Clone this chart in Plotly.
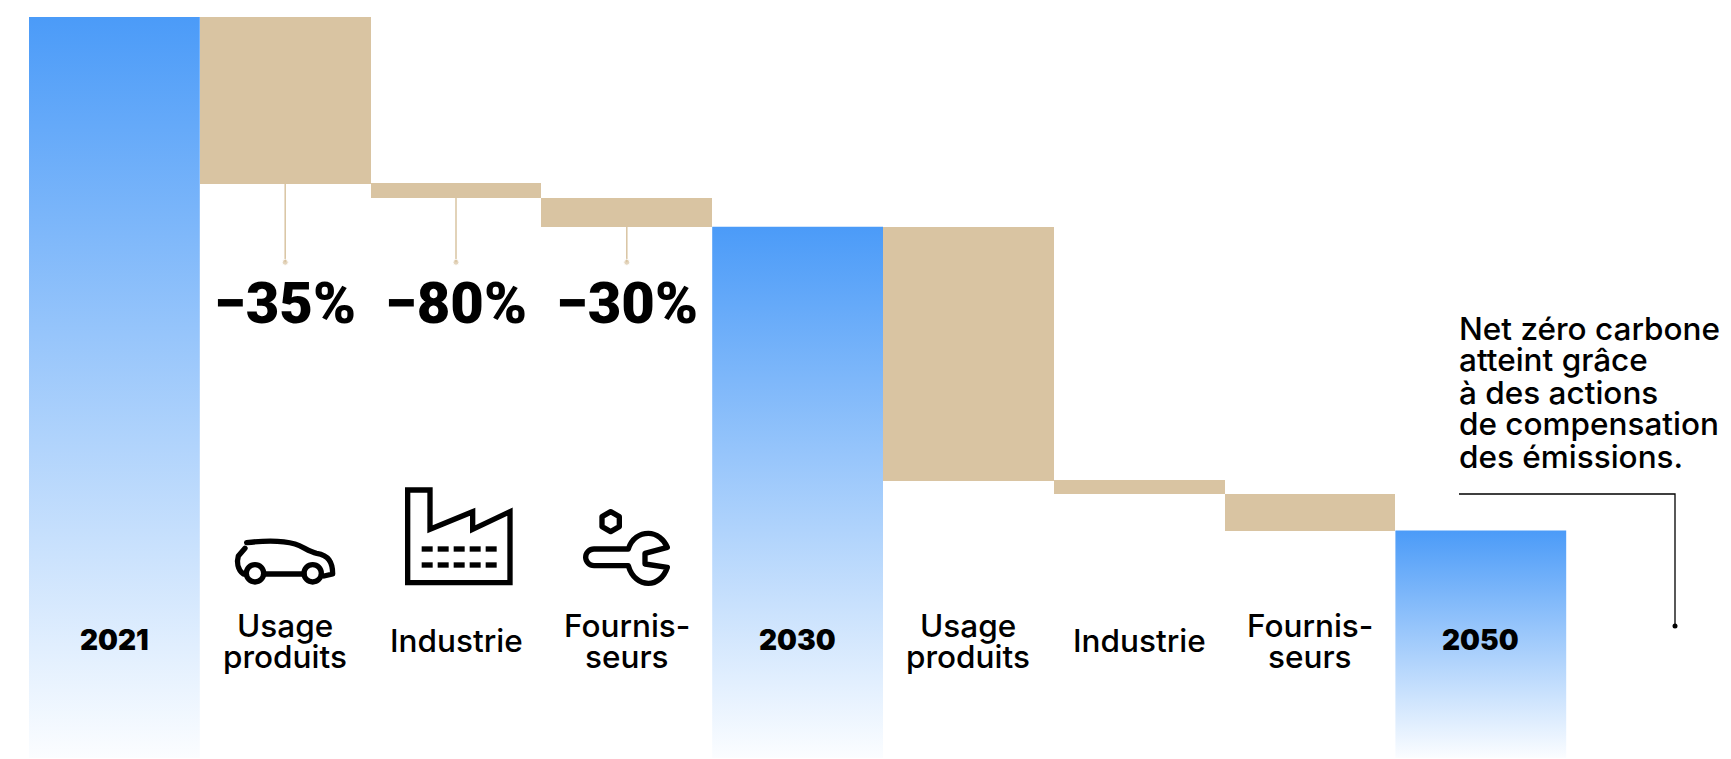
import base64
import plotly.graph_objects as go

# ---------- data ----------
total_labels = ["2021", "2030", "2050"]
total_positions = [0, 4, 8]
total_values = [100.0, 71.7, 30.7]

drop_positions = [1, 2, 3, 5, 6, 7]
drop_tops = [100.0, 77.6, 75.6, 71.7, 37.5, 35.6]
drop_bottoms = [77.5, 75.6, 71.7, 37.4, 35.6, 30.7]

pct_positions = [1, 2, 3]
pct_labels = ["−35%", "−80%", "−30%"]
leader_end = 66.9

category_positions = [1, 2, 3, 5, 6, 7]
category_lines = [["Usage", "produits"], ["Industrie"], ["Fournis-", "seurs"]] * 2

note_lines = ["Net zéro carbone", "atteint grâce", "à des actions",
              "de compensation", "des émissions."]

# ---------- style ----------
W, H = 1731, 759
TAN = "#d9c4a2"
BLUE = "#4b9bf8"
BODY = "Inter"
INK = "#000000"
STEP = 170.8
X0 = 114.4
PY_BOTTOM, PX_PER_UNIT = 758.0, 7.41


def px(x):
    return x / W


def py(y):
    return 1 - y / H


fig = go.Figure()

# blue gradient columns
for pos, val in zip(total_positions, total_values):
    fig.add_trace(go.Scatter(
        x=[pos - .5, pos + .5, pos + .5, pos - .5, pos - .5],
        y=[0, 0, val, val, 0],
        mode="lines", line=dict(width=0), fill="toself",
        fillgradient=dict(type="vertical", start=0, stop=val,
                          colorscale=[[0, "#fbfdff"], [1, BLUE]]),
        hoverinfo="skip", showlegend=False))

# tan reduction bars
fig.add_trace(go.Bar(
    x=drop_positions,
    y=[t - b for t, b in zip(drop_tops, drop_bottoms)],
    base=drop_bottoms, width=1.0,
    marker=dict(color=TAN, line=dict(width=0)),
    hoverinfo="skip", showlegend=False))

# leaders from the first three reduction bars
for pos, bottom in zip(pct_positions, drop_bottoms[:3]):
    fig.add_trace(go.Scatter(
        x=[pos, pos], y=[bottom, leader_end], mode="lines+markers",
        line=dict(color=TAN, width=1.5),
        marker=dict(color=TAN, size=[0, 6]),
        hoverinfo="skip", showlegend=False))

ann = []
for pos, text in zip(pct_positions, pct_labels):
    ann.append(dict(x=pos, y=py(303), xref="x", yref="paper", text=text,
                    showarrow=False, yanchor="middle", xanchor="center",
                    font=dict(family="Roboto", size=58, color=INK, weight=900)))
for pos, text in zip(total_positions, total_labels):
    ann.append(dict(x=pos, y=py(640), xref="x", yref="paper", text=text,
                    showarrow=False, yanchor="middle", xanchor="center",
                    font=dict(family=BODY, size=28, color=INK, weight=900)))
for pos, lines in zip(category_positions, category_lines):
    ys = [625, 656] if len(lines) == 2 else [640]
    for y, line in zip(ys, lines):
        ann.append(dict(x=pos, y=py(y), xref="x", yref="paper", text=line,
                        showarrow=False, yanchor="middle", xanchor="center",
                        font=dict(family=BODY, size=31.5, color=INK, weight=500)))
for i, line in enumerate(note_lines):
    ann.append(dict(x=px(1457), y=py(328 + 32 * i), xref="paper", yref="paper", text=line,
                    showarrow=False, yanchor="middle", xanchor="left",
                    font=dict(family=BODY, size=31.5, color=INK, weight=500)))

# note leader
shapes = [
    dict(type="path", xref="paper", yref="paper",
         path=f"M {px(1459)} {py(494)} L {px(1675)} {py(494)} L {px(1675)} {py(626)}",
         line=dict(color=INK, width=1.3)),
    dict(type="circle", xref="paper", yref="paper",
         x0=px(1672.5), x1=px(1677.5), y0=py(623.5), y1=py(628.5),
         fillcolor=INK, line=dict(width=0)),
]

# icons, drawn on a 1560x660 canvas laid over x 200-720, y 470-690
ICONS = """
<svg xmlns='http://www.w3.org/2000/svg' width='1560' height='660' viewBox='0 0 1560 660'>
<g fill='none' stroke='black' stroke-width='16' stroke-linejoin='round' stroke-linecap='round'>
<path d='M140 218 C190 212 250 212 285 222 C310 230 325 245 350 250 C385 256 398 275 398 312 L372 318'/>
<path d='M135 235 L115 258 C110 275 112 298 130 312'/>
<path d='M192 312 H312'/>
<circle cx='165' cy='310' r='26'/><circle cx='338' cy='310' r='26'/>
<path stroke-linejoin='miter' d='M623 60 H690 V178 L818 125 V178 L930 125 V338 H623 Z'/>
<path d='M1232 125 L1258 140 V170 L1232 185 L1206 170 V140 Z'/>
<path d='M1285 237 C1295 205 1320 190 1345 190 C1370 190 1392 208 1402 232 L1335 250 V282 L1402 292 C1392 322 1370 340 1345 340 C1320 340 1295 322 1285 287 H1182 A25 25 0 0 1 1182 237 Z'/>
</g>
<g fill='black'>
<rect x='665' y='229' width='33' height='16'/><rect x='713' y='229' width='33' height='16'/><rect x='761' y='229' width='33' height='16'/><rect x='809' y='229' width='33' height='16'/><rect x='857' y='229' width='33' height='16'/>
<rect x='665' y='277' width='33' height='16'/><rect x='713' y='277' width='33' height='16'/><rect x='761' y='277' width='33' height='16'/><rect x='809' y='277' width='33' height='16'/><rect x='857' y='277' width='33' height='16'/>
</g></svg>
"""
icon_src = "data:image/svg+xml;base64," + base64.b64encode(ICONS.encode()).decode()

fig.update_layout(
    width=W, height=H,
    margin=dict(l=0, r=0, t=0, b=0),
    paper_bgcolor="white", plot_bgcolor="white",
    showlegend=False, bargap=0, barmode="overlay",
    xaxis=dict(visible=False, range=[(0 - X0) / STEP, (W - X0) / STEP], fixedrange=True),
    yaxis=dict(visible=False, range=[(PY_BOTTOM - H) / PX_PER_UNIT, PY_BOTTOM / PX_PER_UNIT], fixedrange=True),
    annotations=ann, shapes=shapes,
    images=[dict(source=icon_src, xref="paper", yref="paper", x=px(200), y=py(470),
                 sizex=520 / W, sizey=220 / H, sizing="stretch",
                 xanchor="left", yanchor="top", layer="above")],
)

fig.write_html("out.html", config=dict(displayModeBar=False),
               post_script="document.body.style.margin='0';document.body.style.overflow='hidden';")
